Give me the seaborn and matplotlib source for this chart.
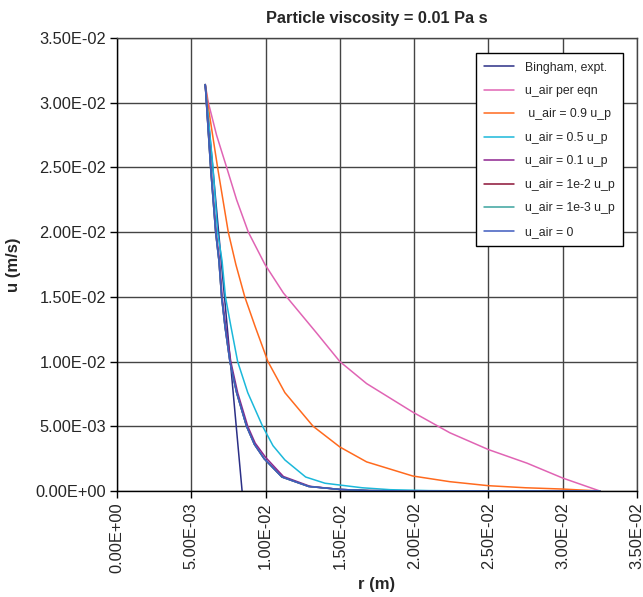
import numpy as np
import pandas as pd
import matplotlib
matplotlib.use("Agg")
import matplotlib.pyplot as plt
import seaborn as sns
from matplotlib.ticker import FuncFormatter

sns.set_style("white")
plt.rcParams['font.family'] = ['Liberation Sans', 'DejaVu Sans']

# ---- data ----
bingham_r = [5.94e-3, 8.42e-3]
bingham_u = [0.0314, 0.0]

eqn_r = [5.94e-3, 6.15e-3, 6.7e-3, 7.38e-3, 8.05e-3, 8.84e-3, 9.96e-3, 1.12e-2, 1.25e-2, 1.344e-2,
         1.5e-2, 1.68e-2, 1.99e-2, 2.24e-2, 2.5e-2, 2.76e-2, 3.0e-2, 3.25e-2]
eqn_u = [0.0314, 0.0300, 0.0275, 0.0250, 0.0225, 0.0200, 0.0175, 0.0153, 0.0135, 0.0122,
         0.0100, 0.0083, 0.0061, 0.0045, 0.0032, 0.00215, 0.0010, 0.0]

p09_r = [5.94e-3, 6.1e-3, 6.77e-3, 7.49e-3, 8.0e-3, 8.6e-3, 9.3e-3, 1.016e-2, 1.13e-2, 1.32e-2,
         1.5e-2, 1.68e-2, 1.99e-2, 2.24e-2, 2.5e-2, 2.75e-2, 3.0e-2, 3.25e-2]
p09_u = [0.0314, 0.0300, 0.0250, 0.0200, 0.0175, 0.0150, 0.0127, 0.0100, 0.0076, 0.0050,
         0.0034, 0.00225, 0.00116, 0.00072, 0.00041, 0.00025, 0.00015, 0.0]

p05_r = [5.94e-3, 6.46e-3, 6.77e-3, 7.07e-3, 7.3e-3, 7.67e-3, 8.12e-3, 8.8e-3, 9.8e-3, 1.05e-2,
         1.13e-2, 1.27e-2, 1.4e-2, 1.5e-2, 1.65e-2, 1.84e-2, 2.1e-2, 2.5e-2, 3.25e-2]
p05_u = [0.0314, 0.0250, 0.0200, 0.0178, 0.0150, 0.0127, 0.0100, 0.0076, 0.0050, 0.0035,
         0.0024, 0.00108, 0.0006, 0.00046, 0.00025, 0.0001, 0.00003, 0.0, 0.0]

p01_r = [5.94e-3, 6.32e-3, 6.67e-3, 6.9e-3, 7.08e-3, 7.32e-3, 7.66e-3, 8.12e-3, 8.8e-3, 9.3e-3,
         1.0e-2, 1.12e-2, 1.3e-2, 1.5e-2, 1.7e-2, 2.0e-2, 3.25e-2]
p01_u = [0.0314, 0.0250, 0.0200, 0.0178, 0.0150, 0.0127, 0.0100, 0.0076, 0.0050, 0.0037,
         0.0026, 0.00112, 0.00036, 0.00012, 0.00003, 0.0, 0.0]

dark_r = [5.94e-3, 6.3e-3, 6.64e-3, 6.86e-3, 7.04e-3, 7.27e-3, 7.6e-3, 8.05e-3, 8.72e-3, 9.25e-3,
          9.9e-3, 1.11e-2, 1.29e-2, 1.5e-2, 1.7e-2, 2.0e-2, 3.25e-2]
dark_u = [0.0314, 0.0250, 0.0200, 0.0178, 0.0150, 0.0127, 0.0100, 0.0076, 0.0050, 0.0036,
          0.0025, 0.00108, 0.00035, 0.00012, 0.00003, 0.0, 0.0]

labels = ["Bingham, expt.", "u_air per eqn", " u_air = 0.9 u_p", "u_air = 0.5 u_p",
          "u_air = 0.1 u_p", "u_air = 1e-2 u_p", "u_air = 1e-3 u_p", "u_air = 0"]
colors = ["#2B2F86", "#E064B4", "#FF6A1E", "#1BB8DA", "#8E2590", "#8C1236", "#3AA39E", "#3F5BBF"]

series = [
    (bingham_r, bingham_u),
    (eqn_r, eqn_u),
    (p09_r, p09_u),
    (p05_r, p05_u),
    (p01_r, p01_u),
    (dark_r, dark_u),
    (dark_r, dark_u),
    (dark_r, dark_u),
]

fig = plt.figure(figsize=(6.43, 5.97), dpi=100)
ax = fig.add_axes([117/643, 1-491/597, 520/643, 453/597])

for (r, u), lab, col in zip(series, labels, colors):
    df = pd.DataFrame({"r": r, "u": u})
    sns.lineplot(data=df, x="r", y="u", ax=ax, color=col, label=lab, linewidth=1.1,
                 sort=False, estimator=None)

ax.set_xlim(0, 0.035)
ax.set_ylim(0, 0.035)
ticks = np.arange(0, 0.0351, 0.005)
ax.set_xticks(ticks)
ax.set_yticks(ticks)
fmt = FuncFormatter(lambda v, p: ("%.2E" % v))
ax.xaxis.set_major_formatter(fmt)
ax.yaxis.set_major_formatter(fmt)
ax.tick_params(axis="x", rotation=90, labelsize=11.8, direction="out", length=5, width=1,
               bottom=True, color="black", pad=3)
ax.tick_params(axis="y", labelsize=11.8, direction="out", length=5, width=1, left=True,
               color="black", pad=3)
ax.grid(True, color="#444444", linewidth=1)
for s in ["left", "bottom"]:
    ax.spines[s].set_color("black")
    ax.spines[s].set_linewidth(1)
for s in ["top", "right"]:
    ax.spines[s].set_color("#444444")
    ax.spines[s].set_linewidth(1)

ax.set_xlabel("r (m)", fontsize=12, fontweight="bold", labelpad=3)
ax.set_ylabel("u (m/s)", fontsize=12, fontweight="bold", labelpad=10)
ax.set_title("Particle viscosity = 0.01 Pa s", fontsize=11.8, fontweight="bold", pad=11)

leg = ax.legend(loc="upper right", bbox_to_anchor=(0.973, 0.967), borderaxespad=0,
                fontsize=8.8, frameon=True, fancybox=False, framealpha=1, edgecolor="black",
                handlelength=2.4, handletextpad=0.9, labelspacing=0.94, borderpad=0.7)
leg.get_frame().set_linewidth(1)

fig.savefig("out.png", dpi=100)
